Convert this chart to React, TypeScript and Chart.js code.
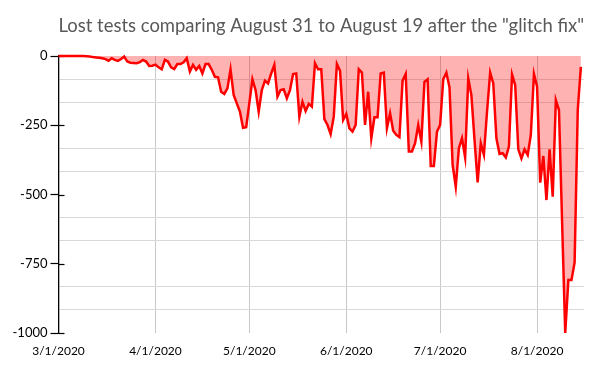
import React, { useEffect, useRef } from "react";
import { Chart, registerables } from "chart.js";

Chart.register(...registerables);

const chartTitle = 'Lost tests comparing August 31 to August 19 after the "glitch fix"';

// x-axis month tick labels and the number of plotted days in each month
const monthLabels = ["3/1/2020", "4/1/2020", "5/1/2020", "6/1/2020", "7/1/2020", "8/1/2020"];
const monthDays = [31, 30, 31, 30, 31, 15];

// daily values (lost tests), one array per month
const marchValues = [
  0, 0, 0, 0, 0, 0, 0, 0, 0, -1, -2, -4, -5, -6, -8, -11, -17, -8, -14, -18, -11, -2,
  -20, -24, -25, -26, -22, -14, -20, -36, -35,
];
const aprilValues = [
  -31, -41, -48, -14, -20, -41, -47, -29, -29, -23, -8, -56, -32, -50, -36, -63, -29, -29,
  -50, -75, -77, -129, -137, -117, -48, -141, -171, -201, -259, -257,
];
const mayValues = [
  -171, -84, -123, -201, -123, -89, -99, -63, -32, -147, -123, -120, -153, -123, -65, -63,
  -219, -165, -199, -173, -183, -26, -48, -48, -228, -249, -282, -219, -29, -53, -231,
];
const juneValues = [
  -209, -261, -273, -249, -48, -60, -249, -129, -297, -221, -221, -63, -60, -261, -207,
  -270, -285, -293, -89, -65, -345, -345, -315, -249, -309, -93, -84, -397, -397, -273,
];
const julyValues = [
  -249, -84, -60, -113, -393, -472, -333, -297, -366, -81, -141, -303, -456, -315, -357,
  -201, -60, -99, -297, -354, -351, -366, -327, -67, -105, -337, -370, -337, -357, -285, -65,
];
const augustValues = [
  -111, -457, -361, -520, -337, -508, -159, -195, -600, -1000, -809, -809, -745, -195, -39,
];

// y axis
const yMin = -1000;
const yMax = 0;
const yLabelStep = 250;
const yGridDivisions = 12;

const isLabelled = (v: number) => Math.abs(v / yLabelStep - Math.round(v / yLabelStep)) < 1e-6;

const crossTicks = {
  id: "crossTicks",
  beforeDatasetsDraw(chart: any) {
    const s = chart.scales.y;
    const ctx = chart.ctx;
    ctx.save();
    ctx.strokeStyle = "#000";
    ctx.lineWidth = 1.2;
    for (const t of s.ticks) {
      if (!isLabelled(t.value)) continue;
      const y = Math.round(s.getPixelForValue(t.value)) + 0.5;
      ctx.beginPath();
      ctx.moveTo(chart.chartArea.left, y);
      ctx.lineTo(chart.chartArea.left + 6, y);
      ctx.stroke();
    }
    ctx.restore();
  },
};

export default function App() {
  const ref = useRef<HTMLCanvasElement>(null);

  useEffect(() => {
    const values = [
      ...marchValues,
      ...aprilValues,
      ...mayValues,
      ...juneValues,
      ...julyValues,
      ...augustValues,
    ];
    const points = values.map((v, i) => ({ x: i, y: v }));
    const monthStarts: number[] = [];
    let acc = 0;
    for (const d of monthDays) {
      monthStarts.push(acc);
      acc += d;
    }
    const totalDays = acc; // axis end

    const chart = new Chart(ref.current as HTMLCanvasElement, {
      type: "line",
      data: {
        datasets: [
          {
            data: points,
            borderColor: "#ff0000",
            borderWidth: 2.5,
            backgroundColor: "rgba(255,0,0,0.3)",
            fill: "origin",
            pointRadius: 0,
            tension: 0,
            clip: 4,
          } as any,
        ],
      },
      options: {
        animation: false,
        responsive: false,
        maintainAspectRatio: false,
        layout: { padding: { left: 0, right: 16, top: 0, bottom: 0 } },
        plugins: {
          legend: { display: false },
          tooltip: { enabled: false },
          title: {
            display: true,
            text: chartTitle,
            color: "#595959",
            fullSize: false,
            font: { family: "Lato", size: 19.5, weight: "normal" },
            padding: { top: 14, bottom: 18.6 },
          } as any,
        },
        scales: {
          x: {
            type: "linear",
            min: 0,
            max: totalDays,
            afterBuildTicks: (s: any) => {
              s.ticks = monthStarts.map((v) => ({ value: v }));
            },
            afterFit: (s: any) => {
              s.height = 38;
            },
            ticks: {
              autoSkip: false,
              maxRotation: 0,
              padding: 11,
              color: "#000",
              font: { family: "Lato", size: 12 },
              callback: (v: any) => {
                const i = monthStarts.indexOf(Number(v));
                return i >= 0 ? monthLabels[i] : "";
              },
            },
            grid: {
              drawTicks: false,
              lineWidth: 1,
              color: (c: any) => (c.index === 0 ? "rgba(0,0,0,0)" : "#c8c8c8"),
            },
            border: { display: false },
          },
          y: {
            min: yMin,
            max: yMax,
            afterBuildTicks: (s: any) => {
              const t = [];
              for (let k = 0; k <= yGridDivisions; k++) {
                t.push({ value: yMin + (k * (yMax - yMin)) / yGridDivisions });
              }
              s.ticks = t;
            },
            afterFit: (s: any) => {
              s.width = 58.5;
            },
            ticks: {
              autoSkip: false,
              padding: 3,
              color: "#000",
              font: { family: "Lato", size: 13 },
              callback: (v: any) => (isLabelled(Number(v)) ? String(Math.round(Number(v))) : ""),
            },
            grid: {
              lineWidth: 1,
              tickLength: 8,
              tickWidth: 1.2,
              color: (c: any) =>
                c.tick && isLabelled(c.tick.value) ? "rgba(0,0,0,0)" : "#d9d9d9",
              tickColor: (c: any) =>
                c.tick && isLabelled(c.tick.value) ? "#000" : "rgba(0,0,0,0)",
            },
            border: { display: true, color: "#000", width: 1.3 },
          },
        },
      },
      plugins: [crossTicks],
    });
    return () => chart.destroy();
  }, []);

  return (
    <div style={{ position: "fixed", left: 0, top: 0, width: 600, height: 371, background: "#fff" }}>
      <canvas ref={ref} width={600} height={371} style={{ display: "block" }} />
    </div>
  );
}
